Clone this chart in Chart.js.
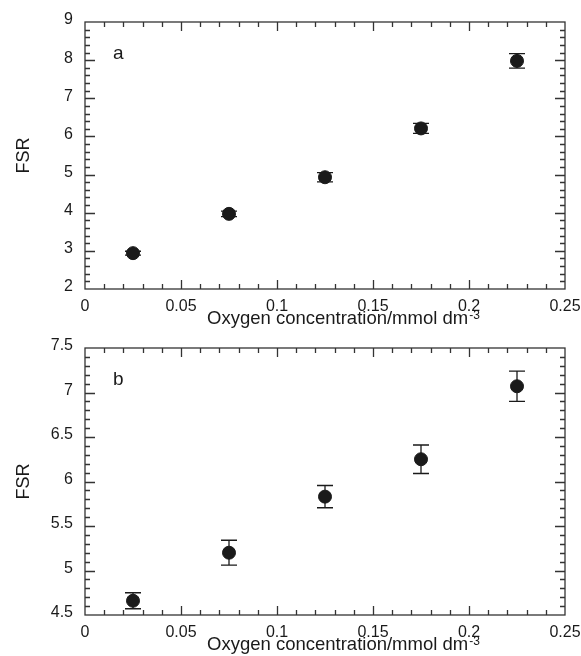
<!DOCTYPE html>
<html>
<head>
<meta charset="utf-8">
<script src="https://cdn.jsdelivr.net/npm/chart.js@4.4.1/dist/chart.umd.min.js"></script>
<style>
body { margin: 0; background: #fff; }
canvas { display: block; }
</style>
</head>
<body>
<canvas id="chartA" width="581" height="328"></canvas>
<canvas id="chartB" width="581" height="328"></canvas>
<script>
// oxygen concentration (mmol dm-3), same for both panels
var oxygen = [0.025, 0.075, 0.125, 0.175, 0.225];
// panel a
var fsrA = [2.94, 3.97, 4.93, 6.21, 7.98];
var errA = [0.05, 0.07, 0.12, 0.13, 0.19];
// panel b
var fsrB = [4.66, 5.20, 5.83, 6.25, 7.07];
var errB = [0.09, 0.14, 0.125, 0.16, 0.17];

var FONT = "'Liberation Sans', Arial, Helvetica, sans-serif";
var INK = '#1a1a1a';

function toPoints(xs, ys) {
    return xs.map(function (x, i) { return { x: x, y: ys[i] }; });
}

// plain number labels: 0.1 not 0.10, 7 not 7.0
function plain(v) {
    return String(parseFloat(Number(v).toFixed(4)));
}

// vertical error bars with caps, drawn under the markers
var errorBars = {
    id: 'errorBars',
    beforeDatasetsDraw: function (chart) {
        var ctx = chart.ctx;
        var xs = chart.scales.x, ys = chart.scales.y;
        chart.data.datasets.forEach(function (ds) {
            if (!ds.errors) return;
            ctx.save();
            ctx.strokeStyle = INK;
            ctx.lineWidth = 1.3;
            ds.data.forEach(function (p, i) {
                var px = xs.getPixelForValue(p.x);
                var top = ys.getPixelForValue(p.y + ds.errors[i]);
                var bot = ys.getPixelForValue(p.y - ds.errors[i]);
                ctx.beginPath();
                ctx.moveTo(px, top); ctx.lineTo(px, bot);
                ctx.moveTo(px - 8, top); ctx.lineTo(px + 8, top);
                ctx.moveTo(px - 8, bot); ctx.lineTo(px + 8, bot);
                ctx.stroke();
            });
            ctx.restore();
        });
    }
};

// box frame with inward major/minor ticks on all four sides,
// panel letter and the x title with a real superscript
var frameTicks = {
    id: 'frameTicks',
    afterDraw: function (chart, args, opts) {
        var ctx = chart.ctx, a = chart.chartArea;
        var xs = chart.scales.x, ys = chart.scales.y;
        ctx.save();
        ctx.strokeStyle = '#333';
        ctx.lineWidth = 1.3;
        ctx.strokeRect(a.left, a.top, a.right - a.left, a.bottom - a.top);
        ctx.beginPath();
        var n = Math.round((xs.max - xs.min) / opts.xMinor);
        for (var i = 1; i < n; i++) {
            var len = (i % opts.xEvery === 0) ? 9 : 5;
            var px = Math.round(xs.getPixelForValue(xs.min + i * opts.xMinor)) + 0.5;
            ctx.moveTo(px, a.bottom); ctx.lineTo(px, a.bottom - len);
            ctx.moveTo(px, a.top); ctx.lineTo(px, a.top + len);
        }
        var m = Math.round((ys.max - ys.min) / opts.yMinor);
        for (var j = 1; j < m; j++) {
            var ylen = (j % opts.yEvery === 0) ? 10 : 5;
            var py = Math.round(ys.getPixelForValue(ys.min + j * opts.yMinor)) + 0.5;
            ctx.moveTo(a.left, py); ctx.lineTo(a.left + ylen, py);
            ctx.moveTo(a.right, py); ctx.lineTo(a.right - ylen, py);
        }
        ctx.stroke();

        ctx.fillStyle = INK;
        ctx.font = '19px ' + FONT;
        ctx.textBaseline = 'middle';
        ctx.fillText(opts.label, a.left + 28, a.top + 32);

        // x title: "Oxygen concentration/mmol dm" + superscript "-3"
        ctx.textBaseline = 'alphabetic';
        ctx.font = '18.5px ' + FONT;
        var tx = a.left + 122, ty = a.bottom + 35;
        ctx.fillText(opts.xTitle, tx, ty);
        var w = ctx.measureText(opts.xTitle).width;
        ctx.font = '12px ' + FONT;
        ctx.fillText(opts.xSup, tx + w + 1, ty - 5);
        ctx.restore();
    }
};

function makeChart(id, values, errors, yMin, yMax, yStep, yMinor, yEvery, label, padTop, xHeight) {
    return new Chart(document.getElementById(id), {
        type: 'scatter',
        data: {
            datasets: [{
                data: toPoints(oxygen, values),
                errors: errors,
                backgroundColor: INK,
                borderColor: INK,
                pointRadius: 6.5,
                pointHoverRadius: 6.5
            }]
        },
        options: {
            responsive: false,
            animation: false,
            layout: { padding: { top: padTop, right: 16, left: 0, bottom: 0 } },
            plugins: {
                legend: { display: false },
                tooltip: { enabled: false },
                frameTicks: { label: label, xMinor: 0.01, xEvery: 5, yMinor: yMinor, yEvery: yEvery,
                              xTitle: 'Oxygen concentration/mmol dm', xSup: '-3' }
            },
            scales: {
                x: {
                    type: 'linear',
                    min: 0, max: 0.25,
                    grid: { display: false, drawTicks: false },
                    border: { display: false },
                    ticks: { stepSize: 0.05, padding: 8, color: INK, font: { family: FONT, size: 16 },
                             maxRotation: 0, callback: plain },
                    title: { display: false },
                    afterFit: function (s) {
                        s.height = xHeight;
                        s.paddingLeft = 0; s.paddingRight = 0;
                    }
                },
                y: {
                    min: yMin, max: yMax,
                    grid: { display: false, drawTicks: false },
                    border: { display: false },
                    ticks: { stepSize: yStep, padding: 12, labelOffset: -2, color: INK,
                             font: { family: FONT, size: 16 }, callback: plain },
                    title: { display: true, text: 'FSR', color: INK,
                             font: { family: FONT, size: 18 }, padding: { top: 13, bottom: 0 } },
                    afterFit: function (s) {
                        s.width = 85;
                        s.paddingTop = 0; s.paddingBottom = 0;
                    }
                }
            }
        },
        plugins: [errorBars, frameTicks]
    });
}

makeChart('chartA', fsrA, errA, 2, 9, 1, 0.2, 5, 'a', 22, 39);
makeChart('chartB', fsrB, errB, 4.5, 7.5, 0.5, 0.1, 5, 'b', 20, 41);
</script>
</body>
</html>
